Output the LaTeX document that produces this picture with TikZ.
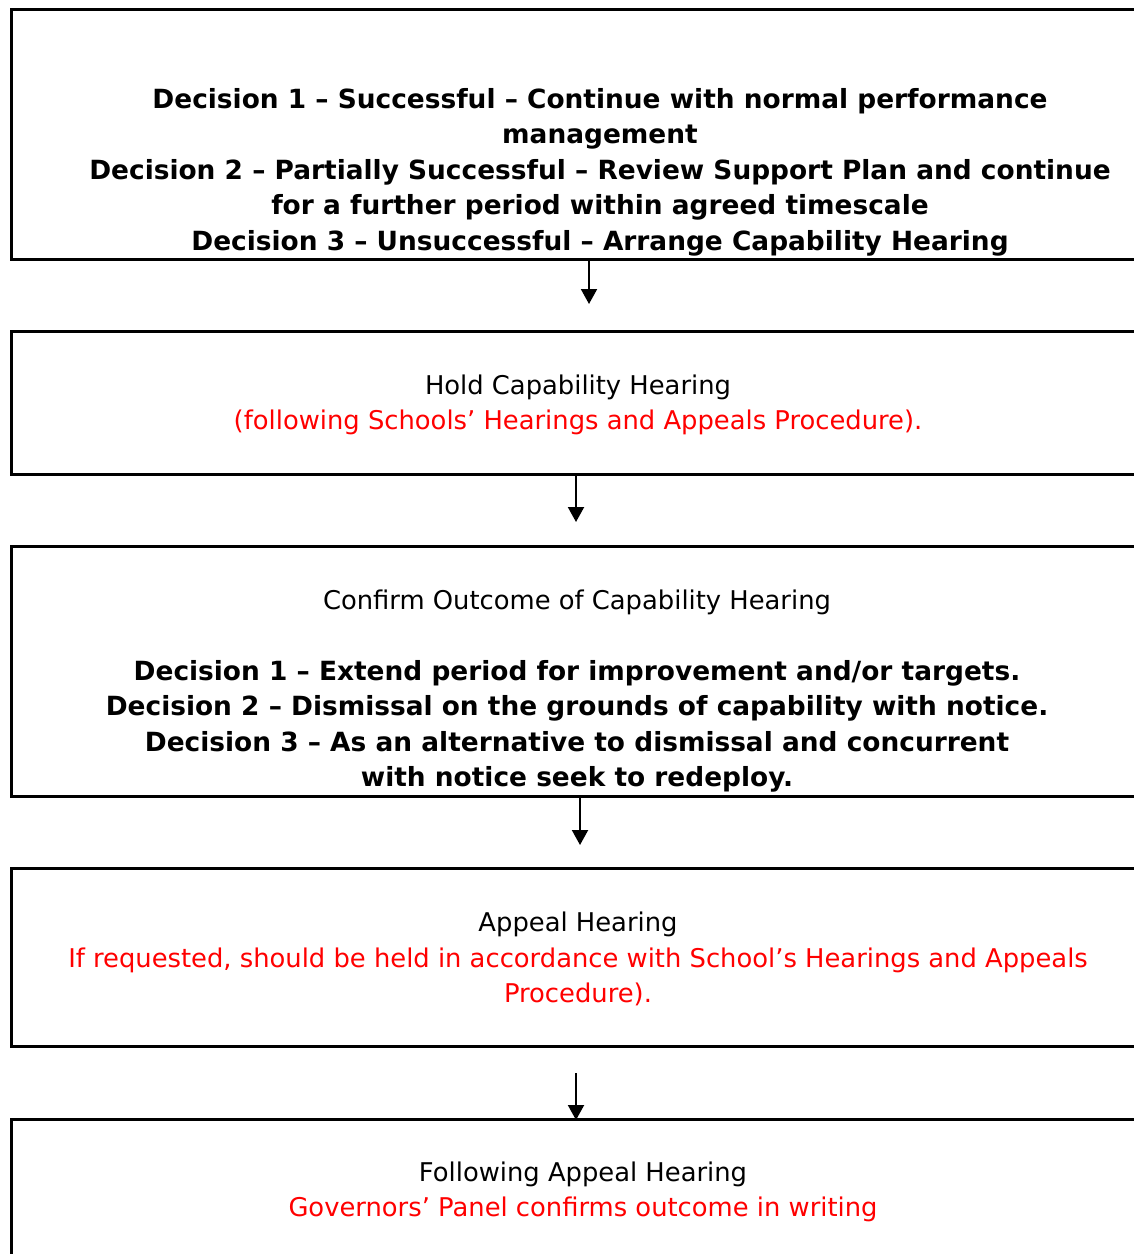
\documentclass[tikz,border=0pt]{standalone}
\usepackage{fontspec}
\setmainfont{DejaVu Sans}
\usetikzlibrary{arrows.meta}
\definecolor{tred}{RGB}{255,0,0}
\newcommand{\myboldline}{\fontsize{26.4}{35.5}\selectfont\bfseries}
\begin{document}
\begin{tikzpicture}[x=1pt,y=-1pt,
  box/.style={draw, line width=3pt, inner sep=0pt, anchor=north west},
  txt/.style={align=center, inner sep=0pt, font=\fontsize{25.8}{35.5}\selectfont},
  btxt/.style={align=center, inner sep=0pt, font=\myboldline},
  arr/.style={line width=2pt, -{Triangle[width=16pt,length=15pt]}}]
\clip (0,0) rectangle (1134,1254);
\useasboundingbox (0,0) rectangle (1134,1254);
\fill[white] (0,0) rectangle (1134,1254);
% boxes
\node[box, minimum width=1136pt, minimum height=250pt] (b1) at (10,8) {};
\node[box, minimum width=1136pt, minimum height=143pt] (b2) at (10,330) {};
\node[box, minimum width=1136pt, minimum height=250pt] (b3) at (10,545) {};
\node[box, minimum width=1136pt, minimum height=178pt] (b4) at (10,867) {};
\node[box, minimum width=1136pt, minimum height=200pt] (b5) at (10,1118) {};
% texts
\node[btxt] (t1) at (600,172) {Decision 1 -- Successful -- Continue with normal performance\\
management\\
Decision 2 -- Partially Successful -- Review Support Plan and continue\\
for a further period within agreed timescale\\
Decision 3 -- Unsuccessful -- Arrange Capability Hearing};
\node[txt] (t2) at (578,405) {Hold Capability Hearing\\
\textcolor{tred}{(following Schools’ Hearings and Appeals Procedure).}};
\node[txt] (t3) at (577,691) {Confirm Outcome of Capability Hearing\\
\mbox{}\\
{\myboldline Decision 1 -- Extend period for improvement and/or targets.}\\
{\myboldline Decision 2 -- Dismissal on the grounds of capability with notice.}\\
{\myboldline Decision 3 -- As an alternative to dismissal and concurrent}\\
{\myboldline with notice seek to redeploy.}};
\node[txt] (t4) at (578,959) {Appeal Hearing\\
\textcolor{tred}{If requested, should be held in accordance with School’s Hearings and Appeals}\\
\textcolor{tred}{Procedure).}};
\node[txt] (t5) at (583,1192) {Following Appeal Hearing\\
\textcolor{tred}{Governors’ Panel confirms outcome in writing}};
% arrow end points
\coordinate (a1s) at (589,258);
\coordinate (a1e) at (589,304);
\coordinate (a2s) at (576,476);
\coordinate (a2e) at (576,522);
\coordinate (a3s) at (580,798);
\coordinate (a3e) at (580,845);
\coordinate (a4s) at (576,1073);
\coordinate (a4e) at (576,1120);
\draw[arr] (a1s) -- (a1e);
\draw[arr] (a2s) -- (a2e);
\draw[arr] (a3s) -- (a3e);
\draw[arr] (a4s) -- (a4e);
\end{tikzpicture}
\end{document}
